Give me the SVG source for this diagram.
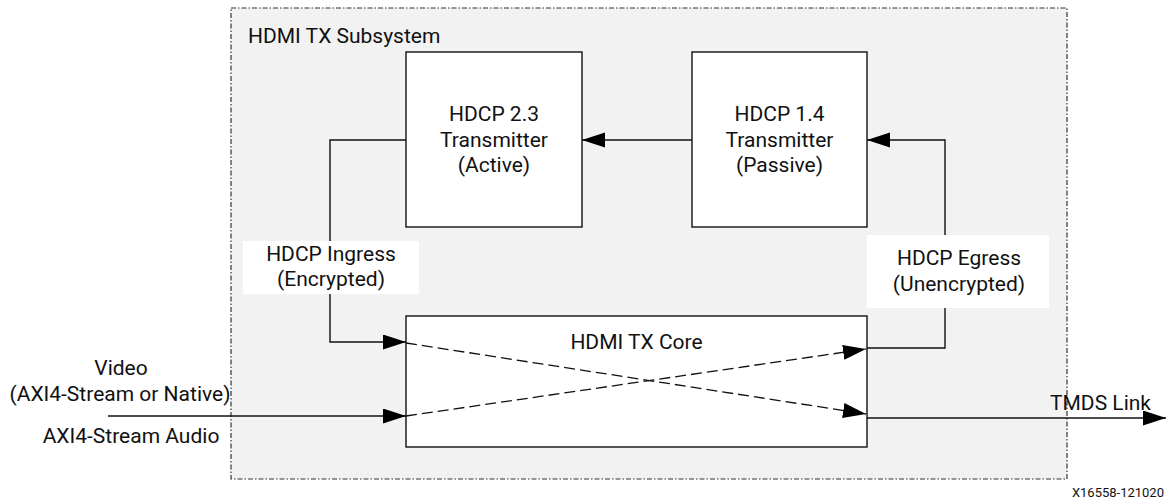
<svg xmlns="http://www.w3.org/2000/svg" width="1168" height="501" viewBox="0 0 1168 501">
<style>
  text { font-family: Roboto, "Liberation Sans", sans-serif; font-size: 21px; fill: #111; }
  .c { text-anchor: middle; }
  .box { fill: #fff; stroke: #111; stroke-width: 1.4; }
  .ln { fill: none; stroke: #111; stroke-width: 1.4; }
  .dash { fill: none; stroke: #111; stroke-width: 1.3; stroke-dasharray: 11 5; }
  .lbl { fill: #fff; stroke: none; }
</style>
<defs>
  <marker id="arr" markerUnits="userSpaceOnUse" markerWidth="24" markerHeight="16" refX="23" refY="7.5" orient="auto">
    <path d="M0,0 L23,7.5 L0,15 z" fill="#000"/>
  </marker>
</defs>
<rect width="1168" height="501" fill="#fff"/>
<g id="subsystem">
  <rect x="231" y="8" width="836" height="471" fill="#f2f2f2" stroke="#333" stroke-width="1.2" stroke-dasharray="5 2 1.5 2"/>
  <text x="248" y="43">HDMI TX Subsystem</text>
</g>
<g id="hdcp23">
  <rect class="box" x="406" y="52" width="176" height="175"/>
  <text class="c" x="494" y="121">HDCP 2.3</text>
  <text class="c" x="494" y="147">Transmitter</text>
  <text class="c" x="494" y="172">(Active)</text>
</g>
<g id="hdcp14">
  <rect class="box" x="692" y="52" width="175" height="175"/>
  <text class="c" x="779.5" y="121">HDCP 1.4</text>
  <text class="c" x="779.5" y="147">Transmitter</text>
  <text class="c" x="779.5" y="172">(Passive)</text>
</g>
<g id="core">
  <rect class="box" x="406" y="316" width="461" height="131"/>
  <text class="c" x="636.5" y="349">HDMI TX Core</text>
</g>
<g id="connectors">
  <line class="ln" x1="692" y1="140" x2="582" y2="140" marker-end="url(#arr)"/>
  <polyline class="ln" points="406,140 330,140 330,342 406,342" marker-end="url(#arr)"/>
  <polyline class="ln" points="867,348 945,348 945,140 867,140" marker-end="url(#arr)"/>
  <line class="ln" x1="108" y1="416" x2="406" y2="416" marker-end="url(#arr)"/>
  <line class="ln" x1="867" y1="418" x2="1166" y2="418" marker-end="url(#arr)"/>
  <line class="dash" x1="406" y1="343" x2="866" y2="414" marker-end="url(#arr)"/>
  <line class="dash" x1="406" y1="416" x2="866" y2="349" marker-end="url(#arr)"/>
</g>
<g id="ingress-label">
  <rect class="lbl" x="243" y="241" width="176" height="53"/>
  <text class="c" x="331" y="261">HDCP Ingress</text>
  <text class="c" x="331" y="286">(Encrypted)</text>
</g>
<g id="egress-label">
  <rect class="lbl" x="867" y="235" width="182" height="73"/>
  <text class="c" x="959" y="265">HDCP Egress</text>
  <text class="c" x="959" y="291">(Unencrypted)</text>
</g>
<g id="io-labels">
  <text class="c" x="121" y="375">Video</text>
  <text class="c" x="120" y="401">(AXI4-Stream or Native)</text>
  <text class="c" x="131" y="443">AXI4-Stream Audio</text>
  <text x="1050" y="410">TMDS Link</text>
  <text x="1164" y="497" text-anchor="end" style="font-size:13px">X16558-121020</text>
</g>
</svg>
